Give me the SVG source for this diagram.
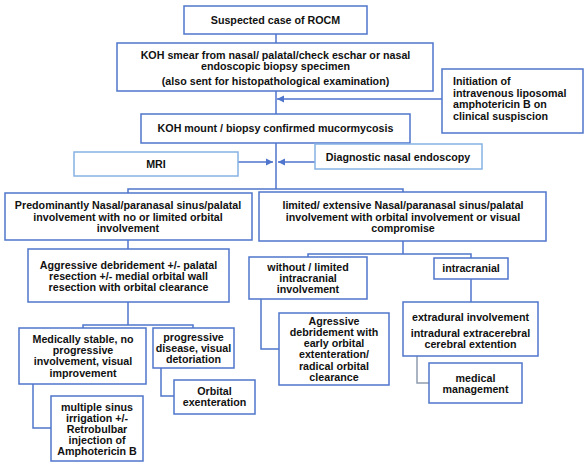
<svg xmlns="http://www.w3.org/2000/svg" width="586" height="466" viewBox="0 0 586 466">
<style>
.b{fill:#fff;stroke:#4f75cc;stroke-width:1.5}
.lb{fill:#fff;stroke:#86b3e4;stroke-width:1.5}
.c{fill:none;stroke:#4f75cc;stroke-width:1.5}
.g{fill:none;stroke:#8e9cb0;stroke-width:1.5}
text{font-family:"Liberation Sans",Arial,sans-serif;font-weight:bold;font-size:10.7px;fill:#111;text-anchor:middle}
.l{text-anchor:start}
</style>
<defs>
<marker id="ah" markerWidth="8" markerHeight="8" refX="7" refY="4" orient="auto" markerUnits="userSpaceOnUse">
<path d="M0,0.5 L7,4 L0,7.5 Z" fill="#4f75cc"/>
</marker>
</defs>
<g id="connectors">
<path class="c" d="M276,34 V43"/>
<path class="c" d="M276,91 V114"/>
<path class="c" d="M442,99 H277" marker-end="url(#ah)"/>
<path class="c" d="M276,143 V189"/>
<path class="c" d="M238,162 H273" marker-end="url(#ah)"/>
<path class="c" d="M315,162 H278" marker-end="url(#ah)"/>
<path class="c" d="M128,193 V189 H403 V192"/>
<path class="c" d="M128,240 V249"/>
<path class="c" d="M128,302 V325"/>
<path class="c" d="M83,328 V325 H193 V328"/>
<path class="c" d="M33,384 V428 H51"/>
<path class="c" d="M161,368 V396 H174"/>
<path class="c" d="M403,241 V254"/>
<path class="c" d="M308,257 V254 H471 V258"/>
<path class="c" d="M261,299 V349 H279"/>
<path class="c" d="M471,279 V302"/>
<path class="g" d="M417,356 V383 H429"/>
</g>
<g id="n1"><rect class="b" x="184" y="6" width="183" height="28"/><text x="275.5" y="24">Suspected case of ROCM</text></g>
<g id="n2"><rect class="b" x="117" y="43" width="316" height="48"/>
<text x="275.5" y="59">KOH smear from  nasal/ palatal/check eschar or nasal</text>
<text x="275.5" y="70">endoscopic biopsy specimen</text>
<text x="275.5" y="85">(also sent for histopathological examination)</text></g>
<g id="n3"><rect class="b" x="442" y="69" width="141" height="64"/>
<text class="l" x="453" y="85">Initiation of</text>
<text class="l" x="453" y="96.5">intravenous liposomal</text>
<text class="l" x="453" y="108">amphotericin B on</text>
<text class="l" x="453" y="119.5">clinical suspiscion</text></g>
<g id="n4"><rect class="b" x="141" y="114" width="269" height="29"/><text x="275.5" y="132">KOH mount / biopsy confirmed mucormycosis</text></g>
<g id="n5"><rect class="lb" x="74" y="152" width="164" height="24"/><text x="156" y="168">MRI</text></g>
<g id="n6"><rect class="lb" x="315" y="144" width="167" height="25"/><text x="398" y="161">Diagnostic nasal endoscopy</text></g>
<g id="n7"><rect class="b" x="5" y="193" width="247" height="47"/>
<text x="128" y="209">Predominantly Nasal/paranasal sinus/palatal</text>
<text x="128" y="220.5">involvement with no or limited orbital</text>
<text x="128" y="232">involvement</text></g>
<g id="n8"><rect class="b" x="259" y="192" width="287" height="49"/>
<text x="403" y="209">limited/ extensive Nasal/paranasal sinus/palatal</text>
<text x="403" y="220.5">involvement with orbital involvement or visual</text>
<text x="403" y="232">compromise</text></g>
<g id="n9"><rect class="b" x="28" y="249" width="201" height="53"/>
<text x="128.5" y="269">Aggressive debridement +/- palatal</text>
<text x="128.5" y="280">resection +/- medial orbital wall</text>
<text x="128.5" y="291">resection with orbital clearance</text></g>
<g id="n10"><rect class="b" x="19" y="328" width="127" height="56"/>
<text x="83" y="343">Medically stable, no</text>
<text x="83" y="354">progressive</text>
<text x="83" y="365">involvement, visual</text>
<text x="83" y="376.5">improvement</text></g>
<g id="n11"><rect class="b" x="153" y="328" width="81" height="40"/>
<text x="193.5" y="341">progressive</text>
<text x="193.5" y="352">disease, visual</text>
<text x="193.5" y="363">detoriation</text></g>
<g id="n12"><rect class="b" x="174" y="380" width="81" height="34"/>
<text x="214.5" y="395">Orbital</text>
<text x="214.5" y="406">exenteration</text></g>
<g id="n13"><rect class="b" x="51" y="396" width="92" height="65"/>
<text x="97" y="411">multiple sinus</text>
<text x="97" y="422">irrigation +/-</text>
<text x="97" y="433">Retrobulbar</text>
<text x="97" y="444">injection of</text>
<text x="97" y="455">Amphotericin B</text></g>
<g id="n14"><rect class="b" x="249" y="257" width="118" height="42"/>
<text x="308" y="271">without / limited</text>
<text x="308" y="282">intracranial</text>
<text x="308" y="293">involvement</text></g>
<g id="n15"><rect class="b" x="279" y="313" width="110" height="72"/>
<text x="334" y="325">Agressive</text>
<text x="334" y="336">debridement with</text>
<text x="334" y="347">early orbital</text>
<text x="334" y="358">extenteration/</text>
<text x="334" y="369.5">radical orbital</text>
<text x="334" y="381">clearance</text></g>
<g id="n16"><rect class="b" x="434" y="258" width="74" height="21"/><text x="471" y="272">intracranial</text></g>
<g id="n17"><rect class="b" x="403" y="302" width="135" height="54"/>
<text x="470.5" y="321">extradural involvement</text>
<text x="470.5" y="337">intradural extracerebral</text>
<text x="470.5" y="348">cerebral extention</text></g>
<g id="n18"><rect class="b" x="429" y="363" width="93" height="40"/>
<text x="475.5" y="382">medical</text>
<text x="475.5" y="393">management</text></g>
</svg>
